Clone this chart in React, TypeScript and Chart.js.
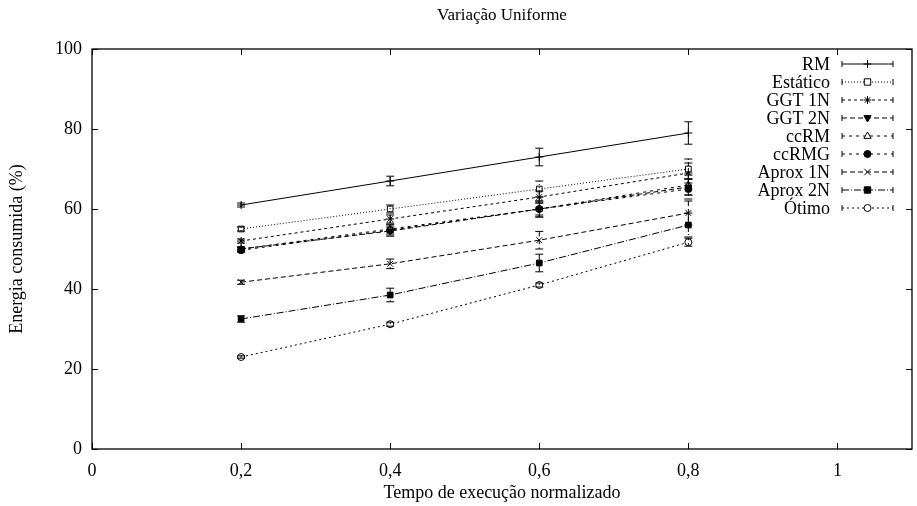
import { useEffect, useRef } from 'react';
import { Chart, registerables } from 'chart.js';

Chart.register(...registerables);

const FONT = '"Liberation Serif", "DejaVu Serif", serif';

const xValues = [0.2, 0.4, 0.6, 0.8];
const seriesNames = ['RM', 'Estático', 'GGT 1N', 'GGT 2N', 'ccRM', 'ccRMG', 'Aprox 1N', 'Aprox 2N', 'Ótimo'];

const rmValues = [61, 67, 73, 79];
const estaticoValues = [55, 60, 65, 70];
const ggt1nValues = [52, 57.5, 63, 69];
const ggt2nValues = [50, 54.5, 60, 65.5];
const ccrmValues = [50, 55, 60, 66];
const ccrmgValues = [49.7, 54.7, 60, 65];
const aprox1nValues = [41.7, 46.3, 52.2, 59];
const aprox2nValues = [32.5, 38.5, 46.5, 56];
const otimoValues = [23, 31.2, 41, 51.7];

const rmErrors = [0.5, 1.2, 2.2, 2.8];
const estaticoErrors = [0.5, 1, 2, 2.5];
const ggt1nErrors = [0.5, 1, 1.5, 2.5];
const ggt2nErrors = [0.5, 1, 1.5, 2];
const ccrmErrors = [0.5, 1, 2, 2.5];
const ccrmgErrors = [0.5, 1.5, 2, 2.5];
const aprox1nErrors = [0.5, 1.2, 2.2, 3];
const aprox2nErrors = [0.8, 1.7, 2.2, 3];
const otimoErrors = [0.3, 0.5, 0.5, 1];

const yTickValues = [0, 20, 40, 60, 80, 100];
const xTickValues = [0, 0.2, 0.4, 0.6, 0.8, 1];

const allValues = [rmValues, estaticoValues, ggt1nValues, ggt2nValues, ccrmValues, ccrmgValues, aprox1nValues, aprox2nValues, otimoValues];
const allErrors = [rmErrors, estaticoErrors, ggt1nErrors, ggt2nErrors, ccrmErrors, ccrmgErrors, aprox1nErrors, aprox2nErrors, otimoErrors];

const styles = [
  { dash: [], point: 'cross', fill: false, rot: 0, r: 4 },
  { dash: [1, 2], point: 'rect', fill: false, rot: 0, r: 4 },
  { dash: [3, 3], point: 'star', fill: false, rot: 0, r: 4 },
  { dash: [5, 3], point: 'triangle', fill: true, rot: 180, r: 4 },
  { dash: [3, 4], point: 'triangle', fill: false, rot: 0, r: 4 },
  { dash: [3, 4], point: 'circle', fill: true, rot: 0, r: 3.5 },
  { dash: [5, 3], point: 'crossRot', fill: false, rot: 0, r: 4 },
  { dash: [7, 2, 1, 2], point: 'rect', fill: true, rot: 0, r: 4 },
  { dash: [2, 3], point: 'circle', fill: false, rot: 0, r: 3.5 },
];

const fmt = (v: number) => {
  const r = Math.round(v * 10) / 10;
  return String(r).replace('.', ',');
};

function drawPointShape(ctx: CanvasRenderingContext2D, style: string, r: number, rot: number, x: number, y: number, fill: boolean) {
  ctx.save();
  ctx.fillStyle = fill ? '#000' : '#fff';
  ctx.strokeStyle = '#000';
  ctx.lineWidth = 1;
  ctx.setLineDash([]);
  ctx.translate(x, y);
  ctx.rotate((rot * Math.PI) / 180);
  ctx.beginPath();
  if (style === 'cross') {
    ctx.moveTo(-r, 0); ctx.lineTo(r, 0); ctx.moveTo(0, -r); ctx.lineTo(0, r);
    ctx.stroke();
  } else if (style === 'crossRot') {
    ctx.moveTo(-r * 0.8, -r * 0.8); ctx.lineTo(r * 0.8, r * 0.8);
    ctx.moveTo(-r * 0.8, r * 0.8); ctx.lineTo(r * 0.8, -r * 0.8);
    ctx.stroke();
  } else if (style === 'star') {
    ctx.moveTo(-r, 0); ctx.lineTo(r, 0); ctx.moveTo(0, -r); ctx.lineTo(0, r);
    ctx.moveTo(-r * 0.7, -r * 0.7); ctx.lineTo(r * 0.7, r * 0.7);
    ctx.moveTo(-r * 0.7, r * 0.7); ctx.lineTo(r * 0.7, -r * 0.7);
    ctx.stroke();
  } else if (style === 'rect') {
    ctx.rect(-r * 0.8, -r * 0.8, r * 1.6, r * 1.6);
    ctx.fill(); ctx.stroke();
  } else if (style === 'triangle') {
    ctx.moveTo(0, -r); ctx.lineTo(r * 0.9, r * 0.6); ctx.lineTo(-r * 0.9, r * 0.6); ctx.closePath();
    ctx.fill(); ctx.stroke();
  } else if (style === 'circle') {
    ctx.arc(0, 0, r, 0, Math.PI * 2);
    ctx.fill(); ctx.stroke();
  }
  ctx.restore();
}

const framePlugin = {
  id: 'gnuplotFrame',
  afterDatasetsDraw(chart: any) {
    const ctx = chart.ctx;
    const xs = chart.scales.x;
    const ys = chart.scales.y;
    const area = chart.chartArea;
    ctx.save();
    ctx.strokeStyle = '#000';
    ctx.fillStyle = '#000';
    ctx.lineWidth = 1;
    // error bars
    allValues.forEach((vals, si) => {
      const errs = allErrors[si];
      vals.forEach((v, i) => {
        const px = xs.getPixelForValue(xValues[i]);
        const top = ys.getPixelForValue(v + errs[i]);
        const bot = ys.getPixelForValue(v - errs[i]);
        ctx.setLineDash(styles[si].dash);
        ctx.beginPath();
        ctx.moveTo(px, top);
        ctx.lineTo(px, bot);
        ctx.stroke();
        ctx.setLineDash([]);
        ctx.beginPath();
        ctx.moveTo(px - 4, top);
        ctx.lineTo(px + 4, top);
        ctx.moveTo(px - 4, bot);
        ctx.lineTo(px + 4, bot);
        ctx.stroke();
      });
    });
    ctx.setLineDash([]);
    // frame
    ctx.lineWidth = 1.3;
    ctx.strokeRect(area.left, area.top, area.right - area.left, area.bottom - area.top);
    ctx.lineWidth = 1;
    // inward ticks
    ctx.beginPath();
    xTickValues.forEach((t) => {
      const px = Math.round(xs.getPixelForValue(t)) + 0.5;
      ctx.moveTo(px, area.bottom);
      ctx.lineTo(px, area.bottom - 6);
      ctx.moveTo(px, area.top);
      ctx.lineTo(px, area.top + 6);
    });
    yTickValues.forEach((t) => {
      const py = Math.round(ys.getPixelForValue(t)) + 0.5;
      ctx.moveTo(area.left, py);
      ctx.lineTo(area.left + 6, py);
      ctx.moveTo(area.right, py);
      ctx.lineTo(area.right - 6, py);
    });
    ctx.stroke();
    // legend (gnuplot style)
    ctx.font = '18px ' + FONT;
    ctx.textAlign = 'right';
    ctx.textBaseline = 'middle';
    const textRight = 830;
    const lx0 = 842;
    const lx1 = 893;
    seriesNames.forEach((name, i) => {
      const y = 64 + i * 18;
      const st = styles[i];
      ctx.fillStyle = '#000';
      ctx.fillText(name, textRight, y + 1);
      ctx.setLineDash(st.dash);
      ctx.beginPath();
      ctx.moveTo(lx0, y);
      ctx.lineTo(lx1, y);
      ctx.stroke();
      ctx.setLineDash([]);
      ctx.beginPath();
      ctx.moveTo(lx0, y - 3);
      ctx.lineTo(lx0, y + 3);
      ctx.moveTo(lx1, y - 3);
      ctx.lineTo(lx1, y + 3);
      ctx.stroke();
      drawPointShape(ctx, st.point, st.r, st.rot, (lx0 + lx1) / 2, y, st.fill);
    });
    ctx.restore();
  },
};

export default function App() {
  const ref = useRef<HTMLCanvasElement | null>(null);
  useEffect(() => {
    if (!ref.current) return;
    const datasets = allValues.map((vals, i) => {
      const st = styles[i];
      return {
        label: seriesNames[i],
        data: vals.map((v, j) => ({ x: xValues[j], y: v })),
        borderColor: '#000',
        borderWidth: 1,
        borderDash: st.dash,
        pointStyle: st.point,
        pointRotation: st.rot,
        pointRadius: st.r,
        pointBorderWidth: 1,
        pointBorderColor: '#000',
        pointBackgroundColor: st.fill ? '#000' : '#fff',
        fill: false,
        tension: 0,
      };
    });
    const chart = new Chart(ref.current, {
      type: 'line',
      data: { datasets },
      plugins: [framePlugin],
      options: {
        animation: false,
        responsive: false,
        devicePixelRatio: 1,
        layout: { padding: { left: 0, right: 2, top: 0, bottom: 0 } },
        plugins: {
          legend: { display: false },
          tooltip: { enabled: false },
          title: {
            display: true,
            fullSize: false,
            text: 'Variação Uniforme',
            color: '#000',
            font: { family: FONT, size: 17, weight: 'normal' },
            padding: { top: 5, bottom: 23.6 },
          },
        },
        scales: {
          x: {
            type: 'linear',
            min: 0,
            max: 1.1,
            grid: { display: false, drawTicks: false },
            border: { display: false },
            afterBuildTicks: (s: any) => {
              s.ticks = xTickValues.map((v) => ({ value: v }));
            },
            afterFit: (s: any) => {
              s.height = 57;
            },
            ticks: {
              color: '#000',
              font: { family: FONT, size: 18 },
              padding: 11,
              maxRotation: 0,
              callback: (v: any) => fmt(Number(v)),
            },
            title: {
              display: true,
              text: 'Tempo de execução normalizado',
              color: '#000',
              font: { family: FONT, size: 18 },
              padding: { top: 0, bottom: 2.2 },
            },
          },
          y: {
            type: 'linear',
            min: 0,
            max: 100,
            grid: { display: false, drawTicks: false },
            border: { display: false },
            afterBuildTicks: (s: any) => {
              s.ticks = yTickValues.map((v) => ({ value: v }));
            },
            afterFit: (s: any) => {
              s.width = 92;
            },
            ticks: {
              color: '#000',
              font: { family: FONT, size: 18 },
              padding: 10,
              callback: (v: any) => fmt(Number(v)),
            },
            title: {
              display: true,
              text: 'Energia consumida (%)',
              color: '#000',
              font: { family: FONT, size: 18 },
              padding: { top: 6.2, bottom: 0 },
            },
          },
        },
      } as any,
    });
    return () => chart.destroy();
  }, []);
  return (
    <div style={{ position: 'fixed', left: 0, top: 0, width: 917, height: 506, background: '#fff' }}>
      <canvas ref={ref} width={917} height={506} style={{ display: 'block', width: 917, height: 506 }} />
    </div>
  );
}
